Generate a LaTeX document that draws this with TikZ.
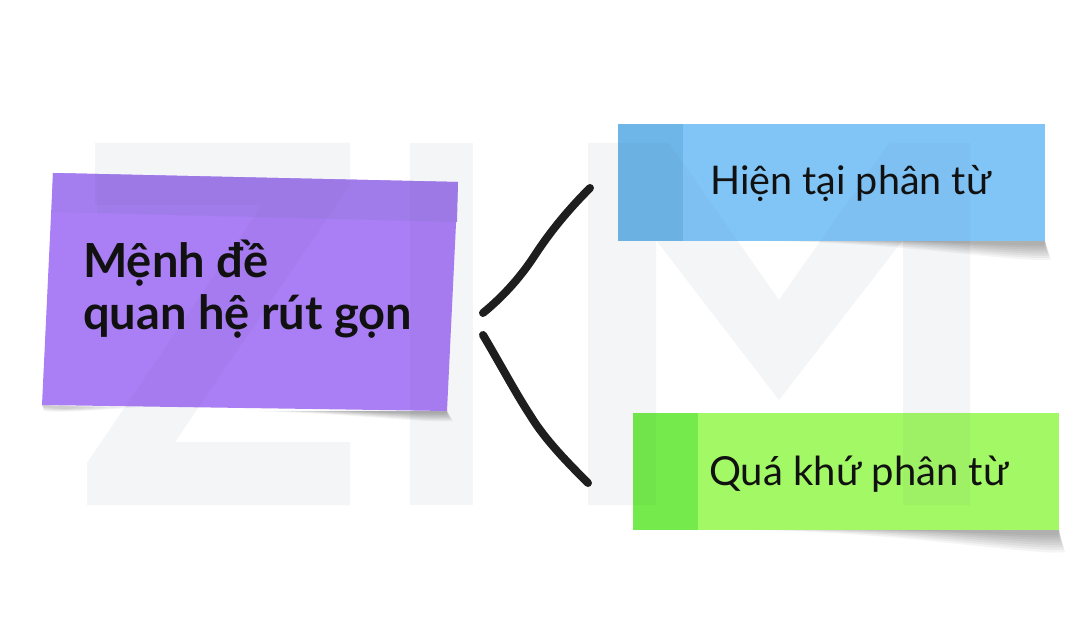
\documentclass[tikz,border=0pt]{standalone}
\usepackage{fontspec}
\setmainfont{Lato}
\definecolor{wm}{RGB}{35,55,95}
\definecolor{wmsolid}{HTML}{F4F5F7}
\definecolor{purplemain}{HTML}{AA7EF4}
\definecolor{purpleband}{HTML}{A07CEA}
\definecolor{bluemain}{HTML}{80C5F6}
\definecolor{bluestrip}{HTML}{6EB6E8}
\definecolor{greenmain}{HTML}{A2F865}
\definecolor{greenstrip}{HTML}{74EA4C}
\definecolor{ink}{HTML}{1E1E1E}
\definecolor{txt}{HTML}{111111}
\newcommand{\noteshadow}[4]{%
  \foreach \i in {0,...,7}{%
    \fill[black,opacity=0.045] ({#1+(#2-#1)*\i*0.07},#3)
      .. controls ({#1+(#2-#1)*(0.5+\i*0.035)},{#3+2}) and ({#2-30},{#3+#4*(1-\i*0.11)})
      .. ({#2+6-\i},{#3+#4*(1-\i*0.11)*0.85}) -- (#2,#3) -- cycle;}}
\newcommand{\zimpath}[1]{%
  \fill[#1] (95,143) -- (350,143) -- (350,185) -- (175,442) -- (350,442) -- (350,505) -- (87,505) -- (87,463) -- (262,205) -- (95,205) -- cycle;
  \fill[#1] (410,143) rectangle (473,505);
  \fill[#1] (588,505) -- (588,143) -- (669,143) -- (779,300) -- (889,143) -- (970,143) -- (970,505) -- (903,505) -- (903,240) -- (779,400) -- (656,240) -- (656,505) -- cycle;}
\tikzset{
  stroke/.style={draw=ink, line width=8pt, line cap=round, line join=round},
  label text/.style={anchor=base west, inner sep=0pt, text=txt},
  wmunder/.style={fill=wmsolid},
  wmover/.style={fill=wm, opacity=0.03},
}
\begin{document}
\begin{tikzpicture}[x=1pt,y=-1pt]
\useasboundingbox (0,0) rectangle (1085,628);
\fill[white] (0,0) rectangle (1085,628);

% watermark ZIM (on the page)
\zimpath{wmunder}

% shadows
\noteshadow{770}{1045}{241}{22}
\noteshadow{750}{1059}{530}{26}
\noteshadow{250}{447}{411}{12}
\foreach \i in {0,...,4}{
  \fill[black,opacity=0.04] (42,405) -- ({140-\i*15},{407}) .. controls ({100-\i*8},{410}) and (60,{413-\i}) .. (44,{411-\i}) -- cycle;}

% purple note
\fill[purplemain] (53,173) -- (458,182) -- (447,411) -- (42,405) -- cycle;
\fill[purpleband] (98,174) -- (458,182) -- (457,222) -- (97,213) -- cycle;
\fill[purpleband!60!purplemain] (53,173) -- (98,174) -- (97,213) -- (52,212) -- cycle;
\coordinate (purple) at (250,292);

% blue note
\node[rectangle, fill=bluemain, minimum width=427pt, minimum height=117pt, inner sep=0pt] (blue) at (831.5,182.5) {};
\fill[bluestrip] (blue.north west) rectangle ([xshift=65pt]blue.south west);

% green note
\node[rectangle, fill=greenmain, minimum width=426pt, minimum height=117pt, inner sep=0pt] (green) at (846,471.5) {};
\fill[greenstrip] (green.north west) rectangle ([xshift=65pt]green.south west);

% watermark faintly over the notes only
\begin{scope}
  \clip (53,173) -- (458,182) -- (447,411) -- (42,405) -- cycle
        (blue.north west) rectangle (blue.south east)
        (green.north west) rectangle (green.south east);
  \zimpath{wmover}
\end{scope}

% texts
\node[label text, font=\bfseries\fontsize{47}{54}\selectfont] (ptxt1) at (83,278) {Mệnh đề};
\node[label text, font=\bfseries\fontsize{47}{54}\selectfont] (ptxt2) at (83,330) {quan hệ rút gọn};
\node[label text, font=\fontsize{39.5}{48}\selectfont] (btxt) at (710,195) {Hiện tại phân từ};
\node[label text, font=\fontsize{40}{48}\selectfont] (gtxt) at (709,485) {Quá khứ phân từ};

% connectors
\coordinate (u1) at (483,313);
\coordinate (u2) at (590,188);
\coordinate (l1) at (483,335);
\coordinate (l2) at (588,483);
\draw[stroke] (u1) .. controls (505,295) and (522,275) .. (535,255) .. controls (550,232) and (568,210) .. (u2);
\draw[stroke] (l1) .. controls (498,360) and (515,392) .. (530,415) .. controls (545,440) and (570,465) .. (l2);
\end{tikzpicture}
\end{document}
